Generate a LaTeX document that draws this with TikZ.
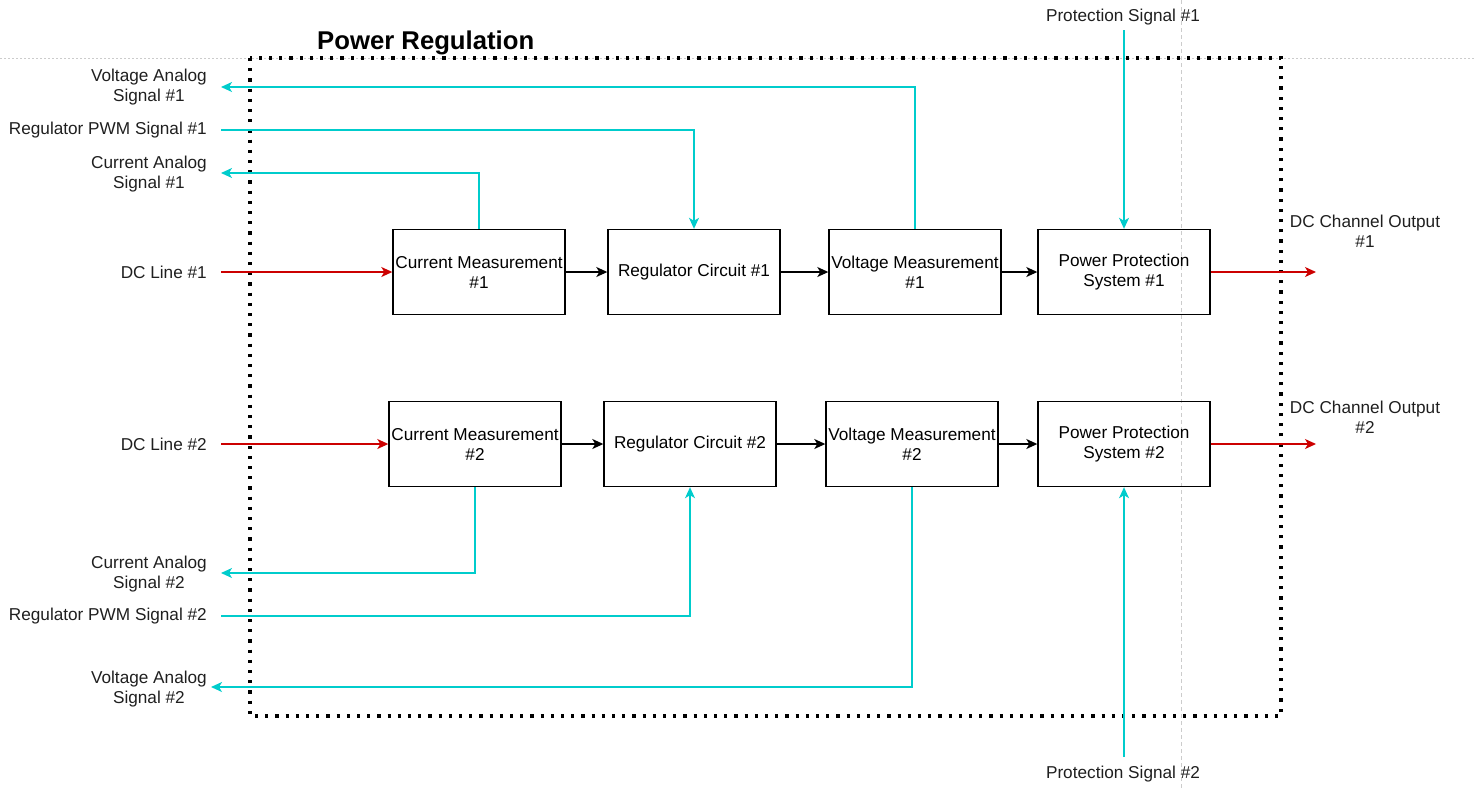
\documentclass[tikz,border=0pt]{standalone}
\usepackage{fontspec}
\setmainfont{Liberation Sans}
\usetikzlibrary{arrows.meta}
\definecolor{sigcyan}{HTML}{00CCCC}
\definecolor{pwrred}{HTML}{CC0000}
\definecolor{guidegray}{HTML}{CCCCCC}
\begin{document}
\begin{tikzpicture}[x=1pt,y=-1pt,
  font=\fontsize{17.2}{20}\selectfont,
  blk/.style={draw, line width=1.4pt, minimum width=172pt, minimum height=85pt, align=center, inner sep=0pt},
  lbl/.style={align=center, inner sep=0pt, text=black!88},
  sig/.style={draw=sigcyan, line width=1.4pt},
  pwr/.style={draw=pwrred, line width=1.4pt},
  flow/.style={draw=black, line width=1.4pt},
  tip/.style={-{Stealth[length=11pt,width=10pt,inset=3pt]}},
  guide/.style={draw=guidegray, line width=0.8pt},
  frame/.style={draw=black, line width=3.2pt, dash pattern=on 3.2pt off 7pt}
]
\useasboundingbox (0,0) rectangle (1474,788);

% guide lines
\draw[guide, dash pattern=on 2pt off 2pt] (0,58) -- (1474,58);
\draw[guide, dash pattern=on 4pt off 3pt] (1181,0) -- (1181,788);

% frame and title
\draw[frame] (250,58) rectangle (1281,716);
\node[anchor=west, inner sep=0pt, font=\fontsize{25.7}{30}\selectfont\bfseries] (title) at (317,43) {Power Regulation};

% blocks
\node[blk] (cm1)  at (479,272)  {Current Measurement\\\#1};
\node[blk] (rc1)  at (694,272)  {Regulator Circuit \#1};
\node[blk] (vm1)  at (915,272)  {Voltage Measurement\\\#1};
\node[blk] (pps1) at (1124,272) {Power Protection\\System \#1};
\node[blk] (cm2)  at (475,444)  {Current Measurement\\\#2};
\node[blk] (rc2)  at (690,444)  {Regulator Circuit \#2};
\node[blk] (vm2)  at (912,444)  {Voltage Measurement\\\#2};
\node[blk] (pps2) at (1124,444) {Power Protection\\System \#2};

% labels
\node[lbl, anchor=east] (vas1) at (207,87)  {Voltage Analog\\Signal \#1};
\node[lbl, anchor=east] (pwm1) at (207,130) {Regulator PWM Signal \#1};
\node[lbl, anchor=east] (cas1) at (207,174) {Current Analog\\Signal \#1};
\node[lbl, anchor=east] (dcl1) at (207,272) {DC Line \#1};
\node[lbl, anchor=east] (dcl2) at (207,444) {DC Line \#2};
\node[lbl, anchor=east] (cas2) at (207,574) {Current Analog\\Signal \#2};
\node[lbl, anchor=east] (pwm2) at (207,616) {Regulator PWM Signal \#2};
\node[lbl, anchor=east] (vas2) at (207,689) {Voltage Analog\\Signal \#2};
\node[lbl] (ps1) at (1123,17)  {Protection Signal \#1};
\node[lbl] (ps2) at (1123,774) {Protection Signal \#2};
\node[lbl] (out1) at (1365,231) {DC Channel Output\\\#1};
\node[lbl] (out2) at (1365,417) {DC Channel Output\\\#2};

% free ends
\coordinate (dcl1e) at (221,272);
\coordinate (dcl2e) at (221,444);
\coordinate (out1e) at (1316,272);
\coordinate (out2e) at (1316,444);
\coordinate (vas1e) at (221,87);
\coordinate (pwm1s) at (221,130);
\coordinate (cas1e) at (221,173);
\coordinate (cas2e) at (221,573);
\coordinate (pwm2s) at (221,616);
\coordinate (vas2e) at (211,687);
\coordinate (ps1s) at (1124,30);
\coordinate (ps2s) at (1124,757);

% power path
\draw[pwr,tip] (dcl1e) -- (cm1.west);
\draw[pwr,tip] (dcl2e) -- (cm2.west);
\draw[pwr,tip] (pps1.east) -- (out1e);
\draw[pwr,tip] (pps2.east) -- (out2e);

% block flow
\draw[flow,tip] (cm1) -- (rc1);
\draw[flow,tip] (rc1) -- (vm1);
\draw[flow,tip] (vm1) -- (pps1);
\draw[flow,tip] (cm2) -- (rc2);
\draw[flow,tip] (rc2) -- (vm2);
\draw[flow,tip] (vm2) -- (pps2);

% signals
\draw[sig,tip] (vm1.north) |- (vas1e);
\draw[sig,tip] (pwm1s) -| (rc1.north);
\draw[sig,tip] (cm1.north) |- (cas1e);
\draw[sig,tip] (ps1s) -- (pps1.north);
\draw[sig,tip] (cm2.south) |- (cas2e);
\draw[sig,tip] (pwm2s) -| (rc2.south);
\draw[sig,tip] (vm2.south) |- (vas2e);
\draw[sig,tip] (ps2s) -- (pps2.south);
\end{tikzpicture}
\end{document}
